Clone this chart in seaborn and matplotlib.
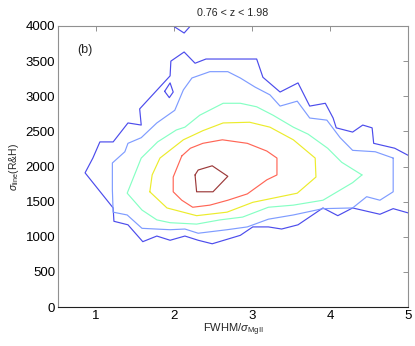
import matplotlib
matplotlib.use("Agg")
import matplotlib.pyplot as plt
import seaborn as sns
import pandas as pd

# ---- data: contour vertices (x = FWHM/sigma_MgII, y = sigma_line) ----
lvl1_x = [5.00, 4.83, 4.56, 4.54, 4.42, 4.29, 4.08, 4.04, 3.94, 3.74, 3.59, 3.36, 3.14, 3.06,
          2.41, 2.27, 2.13, 1.96, 1.95, 1.56, 1.58, 1.41, 1.22, 1.05, 0.96, 0.86, 1.22, 1.23,
          1.41, 1.60, 1.78, 1.95, 2.14, 2.31, 2.49, 2.85, 3.01, 3.21, 3.38, 3.59, 3.91, 4.10,
          4.29, 4.64, 4.81, 5.00]
lvl1_y = [2160, 2260, 2330, 2550, 2590, 2490, 2550, 2690, 2900, 2860, 3190, 3060, 3270, 3530,
          3530, 3470, 3630, 3500, 3290, 2820, 2590, 2620, 2350, 2350, 2120, 1910, 1410, 1220,
          1170, 930, 1010, 950, 1010, 950, 900, 1020, 1140, 1140, 1110, 1170, 1410, 1300,
          1410, 1320, 1400, 1340]
lvl1_top_x = [1.99, 2.13, 2.21]
lvl1_top_y = [4000, 3900, 4000]
lvl1_isle_x = [1.88, 1.95, 1.99, 1.94, 1.88]
lvl1_isle_y = [3070, 3190, 3060, 2980, 3070]

lvl2_x = [4.81, 4.81, 4.64, 4.47, 4.29, 3.91, 3.53, 3.21, 2.94, 2.68, 2.31, 2.14, 1.95, 1.59,
          1.40, 1.22, 1.21, 1.21, 1.37, 1.41, 1.58, 1.78, 1.92, 2.01, 2.12, 2.23, 2.46, 2.69,
          2.85, 3.04, 3.23, 3.36, 3.58, 3.74, 3.96, 4.13, 4.29, 4.58, 4.81]
lvl2_y = [2120, 1640, 1520, 1570, 1410, 1400, 1310, 1250, 1140, 1100, 1050, 1110, 1100, 1120,
          1310, 1350, 1670, 2050, 2210, 2330, 2410, 2620, 2730, 2800, 3090, 3260, 3350, 3350,
          3260, 3130, 3020, 2860, 2930, 2690, 2660, 2410, 2230, 2210, 2120]

lvl3_x = [4.41, 4.29, 3.91, 3.53, 3.21, 2.88, 2.59, 2.29, 1.95, 1.78, 1.59, 1.40, 1.58, 1.79,
          2.03, 2.14, 2.33, 2.63, 2.85, 3.06, 3.27, 3.53, 3.72, 3.97, 4.15, 4.41]
lvl3_y = [1880, 1770, 1520, 1450, 1420, 1280, 1240, 1180, 1200, 1240, 1380, 1620, 2120, 2350,
          2520, 2560, 2730, 2900, 2900, 2850, 2730, 2560, 2460, 2260, 2060, 1880]

lvl4_x = [1.69, 1.72, 1.82, 2.12, 2.37, 2.63, 2.97, 3.23, 3.53, 3.81, 3.82, 3.58, 3.01, 2.68,
          2.29, 1.91, 1.69]
lvl4_y = [1640, 1880, 2120, 2380, 2510, 2620, 2630, 2560, 2380, 2120, 1850, 1620, 1490, 1350,
          1300, 1410, 1640]

lvl5_x = [2.10, 1.99, 1.99, 2.10, 2.24, 2.46, 2.69, 2.94, 3.19, 3.32, 3.32, 3.19, 2.94, 2.62,
          2.37, 2.21, 2.10]
lvl5_y = [2150, 1850, 1640, 1520, 1420, 1450, 1520, 1610, 1810, 1880, 2120, 2220, 2330, 2380,
          2330, 2260, 2150]

lvl6_x = [2.27, 2.31, 2.49, 2.69, 2.50, 2.29, 2.27]
lvl6_y = [1880, 1950, 2010, 1860, 1640, 1640, 1880]

x_ticks = [1, 2, 3, 4, 5]
y_ticks = [0, 500, 1000, 1500, 2000, 2500, 3000, 3500, 4000]
title = "0.76 < z < 1.98"
panel_label = "(b)"

# ---- styling ----
sns.set_style("white")
plt.rcParams["font.family"] = ["Liberation Sans", "DejaVu Sans"]
plt.rcParams["mathtext.fontset"] = "custom"
plt.rcParams["mathtext.rm"] = "Liberation Sans"
plt.rcParams["mathtext.it"] = "Liberation Sans:italic"
plt.rcParams["mathtext.bf"] = "Liberation Sans:bold"

fig = plt.figure(figsize=(4.15, 3.46), dpi=100)
ax = fig.add_axes([58 / 415, 1 - 307 / 346, 350 / 415, 281 / 346])

curves = [
    (lvl1_x, lvl1_y, "#4c4cec"),
    (lvl1_top_x, lvl1_top_y, "#4c4cec"),
    (lvl1_isle_x, lvl1_isle_y, "#4c4cec"),
    (lvl2_x, lvl2_y, "#7f9cff"),
    (lvl3_x, lvl3_y, "#86ffc4"),
    (lvl4_x, lvl4_y, "#ecec2c"),
    (lvl5_x, lvl5_y, "#ff6656"),
    (lvl6_x, lvl6_y, "#9c3a3a"),
]
for xs, ys, c in curves:
    df = pd.DataFrame({"x": xs, "y": ys})
    sns.lineplot(data=df, x="x", y="y", sort=False, estimator=None, color=c,
                 lw=0.85, ax=ax, clip_on=True)

ax.set_xlim(0.513, 5.0)
ax.set_ylim(0, 4000)
ax.set_xticks(x_ticks)
ax.set_yticks(y_ticks)
ax.set_xticklabels([str(t) for t in x_ticks])
ax.set_yticklabels([str(t) for t in y_ticks])
ax.tick_params(direction="in", length=3.5, width=0.6, top=True, right=True,
               labelsize=9.5, colors="#808080", labelcolor="black", pad=2)
for s in ["left", "top", "right"]:
    ax.spines[s].set_color("#909090")
    ax.spines[s].set_linewidth(0.8)
ax.spines["bottom"].set_color("#202020")
ax.spines["bottom"].set_linewidth(0.8)

ax.set_xlabel(r"FWHM/$\sigma_{\rm MgII}$", fontsize=8, labelpad=0)
ax.set_ylabel(r"$\sigma_{\rm line}$(R&H)", fontsize=7.5, labelpad=3)
ax.set_title(title, fontsize=7.7, pad=7)
ax.text(0.054, 0.915, panel_label, transform=ax.transAxes, fontsize=9,
        ha="left", va="center")

fig.savefig("out.png", dpi=100)
